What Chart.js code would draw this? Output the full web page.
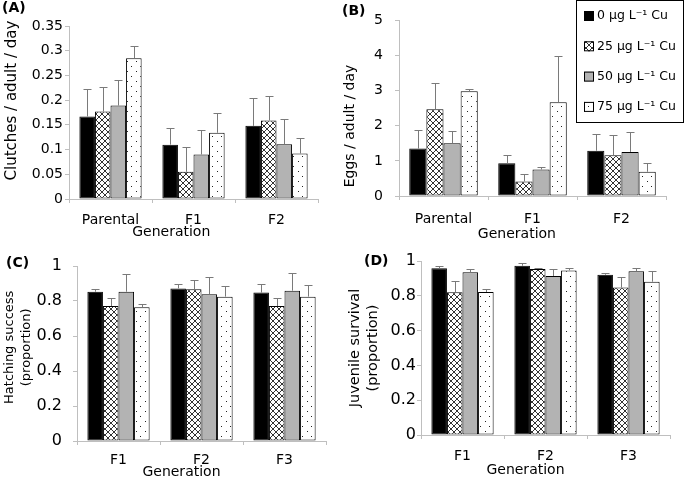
<!DOCTYPE html>
<html>
<head>
<meta charset="utf-8">
<script src="https://cdn.jsdelivr.net/npm/chart.js@4.4.0/dist/chart.umd.min.js"></script>
<style>
body { margin: 0; background: #fff; width: 685px; height: 482px; position: relative; overflow: hidden; font-family: "DejaVu Sans", sans-serif; }
canvas { position: absolute; }
.tag { position: absolute; font-weight: bold; font-size: 14px; line-height: 16px; color: #000; }
</style>
</head>
<body>
<canvas id="chart-a" width="340" height="240" style="left:0;top:0;width:340px;height:240px"></canvas>
<canvas id="chart-b" width="345" height="240" style="left:340px;top:0;width:345px;height:240px"></canvas>
<canvas id="chart-c" width="340" height="242" style="left:0;top:240px;width:340px;height:242px"></canvas>
<canvas id="chart-d" width="345" height="242" style="left:340px;top:240px;width:345px;height:242px"></canvas>
<div class="tag" style="left:2px;top:-1px">(A)</div>
<div class="tag" style="left:342px;top:2px">(B)</div>
<div class="tag" style="left:6px;top:254px">(C)</div>
<div class="tag" style="left:364px;top:252px">(D)</div>
<script>
// treatments (series) and generations (categories)
const concLabels = ["0 μg L⁻¹ Cu", "25 μg L⁻¹ Cu", "50 μg L⁻¹ Cu", "75 μg L⁻¹ Cu"];
const genParental = ["Parental", "F1", "F2"];
const genOffspring = ["F1", "F2", "F3"];

// (A) clutches / adult / day, rows = 0, 25, 50, 75 ug/L
const clutchMeans = [
    [0.167, 0.110, 0.148],
    [0.177, 0.055, 0.159],
    [0.189, 0.090, 0.111],
    [0.285, 0.134, 0.092]
];
const clutchErr = [
    [0.056, 0.034, 0.057],
    [0.050, 0.050, 0.050],
    [0.051, 0.050, 0.051],
    [0.025, 0.040, 0.032]
];

// (B) eggs / adult / day
const eggMeans = [
    [1.35, 0.935, 1.29],
    [2.47, 0.415, 1.16],
    [1.50, 0.755, 1.255],
    [2.985, 2.67, 0.69]
];
const eggErr = [
    [0.52, 0.245, 0.485],
    [0.75, 0.225, 0.59],
    [0.36, 0.065, 0.565],
    [0.055, 1.33, 0.255]
];

// (C) hatching success
const hatchMeans = [
    [0.853, 0.872, 0.848],
    [0.771, 0.867, 0.771],
    [0.853, 0.838, 0.859],
    [0.764, 0.825, 0.825]
];
const hatchErr = [
    [0.014, 0.027, 0.047],
    [0.048, 0.051, 0.048],
    [0.103, 0.097, 0.099],
    [0.019, 0.063, 0.065]
];

// (D) juvenile survival
const survMeans = [
    [0.958, 0.973, 0.921],
    [0.820, 0.954, 0.847],
    [0.935, 0.914, 0.941],
    [0.822, 0.946, 0.881]
];
const survErr = [
    [0.013, 0.017, 0.010],
    [0.063, 0.006, 0.063],
    [0.019, 0.040, 0.019],
    [0.019, 0.014, 0.063]
];

const ticksA = [0, 0.05, 0.1, 0.15, 0.2, 0.25, 0.3, 0.35];
const ticksB = [0, 1, 2, 3, 4, 5];
const ticksCD = [0, 0.2, 0.4, 0.6, 0.8, 1];

Chart.defaults.font.family = "'DejaVu Sans', sans-serif";
Chart.defaults.color = "#000";

function crossPattern() {
    const c = document.createElement("canvas");
    c.width = 6; c.height = 6;
    const g = c.getContext("2d");
    g.fillStyle = "#fff";
    g.fillRect(0, 0, 6, 6);
    g.strokeStyle = "#333";
    g.lineWidth = 1;
    g.beginPath();
    g.moveTo(0, 0); g.lineTo(6, 6);
    g.moveTo(6, 0); g.lineTo(0, 6);
    g.stroke();
    return g.createPattern(c, "repeat");
}

function dotPattern() {
    const c = document.createElement("canvas");
    c.width = 9; c.height = 10;
    const g = c.getContext("2d");
    g.fillStyle = "#fff";
    g.fillRect(0, 0, 9, 10);
    g.fillStyle = "#222";
    g.fillRect(1, 1, 1, 1);
    g.fillRect(5, 6, 1, 1);
    return g.createPattern(c, "repeat");
}

const fills = ["#000000", crossPattern(), "#b3b3b3", dotPattern()];

// upper-only SE bars
const errorBars = {
    id: "errorBars",
    afterDatasetsDraw(chart) {
        const ctx = chart.ctx;
        const y = chart.scales.y;
        ctx.save();
        ctx.strokeStyle = "#7a7a7a";
        ctx.lineWidth = 1;
        chart.data.datasets.forEach((ds, i) => {
            const meta = chart.getDatasetMeta(i);
            meta.data.forEach((bar, j) => {
                const top = Math.round(y.getPixelForValue(ds.data[j] + ds.err[j])) + 0.5;
                const x = Math.round(bar.x) + 0.5;
                ctx.beginPath();
                ctx.moveTo(x, bar.y);
                ctx.lineTo(x, top);
                ctx.moveTo(x - 4, top);
                ctx.lineTo(x + 4, top);
                ctx.stroke();
            });
        });
        ctx.restore();
    }
};

// boxed legend in the top right of panel B
const boxLegend = {
    id: "boxLegend",
    afterDraw(chart) {
        const ctx = chart.ctx;
        ctx.save();
        ctx.fillStyle = "#fff";
        ctx.fillRect(236, 0, 107, 122);
        ctx.strokeStyle = "#000";
        ctx.lineWidth = 1;
        ctx.strokeRect(236.5, 0.5, 107, 122);
        ctx.font = "12.5px 'DejaVu Sans', sans-serif";
        ctx.textBaseline = "middle";
        chart.data.datasets.forEach((ds, i) => {
            const cy = 16 + i * 30.3;
            ctx.fillStyle = ds.backgroundColor;
            ctx.fillRect(244, cy - 5, 10, 10);
            ctx.strokeRect(244.5, cy - 4.5, 9, 9);
            ctx.fillStyle = "#000";
            ctx.fillText(ds.label, 257, cy);
        });
        ctx.restore();
    }
};

function makePanel(id, o) {
    const datasets = o.means.map((row, i) => ({
        label: concLabels[i],
        data: row,
        err: o.err[i],
        backgroundColor: fills[i],
        borderColor: "#000",
        borderWidth: 1,
        borderSkipped: false
    }));
    return new Chart(document.getElementById(id), {
        type: "bar",
        data: { labels: o.labels, datasets: datasets },
        options: {
            responsive: false,
            animation: false,
            devicePixelRatio: 1,
            layout: { padding: { top: o.top, right: o.right, left: 0, bottom: 0 } },
            datasets: { bar: { barPercentage: 1, categoryPercentage: o.catPct } },
            plugins: { legend: { display: false }, tooltip: { enabled: false } },
            scales: {
                x: {
                    grid: { display: true, drawOnChartArea: false, tickLength: 4, color: "#bfbfbf", offset: true },
                    border: { display: true, color: "#bfbfbf" },
                    ticks: { font: { size: 14 }, padding: o.xPad, maxRotation: 0 },
                    title: { display: true, text: o.xTitle, font: { size: 14 }, padding: { top: 0, bottom: o.xTitlePad } },
                    afterFit: s => { s.height = o.xHeight; }
                },
                y: {
                    min: o.ticks[0],
                    max: o.ticks[o.ticks.length - 1],
                    afterBuildTicks: s => { s.ticks = o.ticks.map(v => ({ value: v })); },
                    grid: { display: true, drawOnChartArea: false, tickLength: 4, color: "#bfbfbf" },
                    border: { display: true, color: "#bfbfbf" },
                    ticks: { font: { size: o.tickSize }, padding: o.yPad, callback: v => String(v) },
                    title: { display: true, text: o.yTitle, font: { size: o.yTitleSize, lineHeight: o.yTitleLh }, padding: { top: o.yTitlePad, bottom: 0 } },
                    afterFit: s => { s.width = o.yWidth; }
                }
            }
        },
        plugins: o.legend ? [errorBars, boxLegend] : [errorBars]
    });
}

const sp = n => "\u00a0".repeat(n);

makePanel("chart-a", {
    labels: genParental, means: clutchMeans, err: clutchErr, ticks: ticksA,
    top: 26, right: 22, catPct: 0.75, xHeight: 41, yWidth: 69,
    xPad: 9, xTitle: "Generation" + sp(10), xTitlePad: -1,
    tickSize: 14, yPad: 2,
    yTitle: sp(5) + "Clutches / adult / day", yTitleSize: 15, yTitleLh: 1.2, yTitlePad: 3
});

makePanel("chart-b", {
    labels: genParental, means: eggMeans, err: eggErr, ticks: ticksB, legend: true,
    top: 20, right: 19, catPct: 0.77, xHeight: 44, yWidth: 59,
    xPad: 11, xTitle: "Generation" + sp(7), xTitlePad: -3,
    tickSize: 14, yPad: 12,
    yTitle: "Eggs / adult / day" + sp(8), yTitleSize: 14, yTitleLh: 1.2, yTitlePad: 2
});

makePanel("chart-c", {
    labels: genOffspring, means: hatchMeans, err: hatchErr, ticks: ticksCD,
    top: 26, right: 14, catPct: 0.75, xHeight: 41, yWidth: 77,
    xPad: 7, xTitle: "Generation" + sp(9), xTitlePad: 1,
    tickSize: 16, yPad: 11,
    yTitle: [sp(3) + "Hatching success", sp(3) + "(proportion)"], yTitleSize: 13, yTitleLh: 1.3, yTitlePad: 1.5
});

makePanel("chart-d", {
    labels: genOffspring, means: survMeans, err: survErr, ticks: ticksCD,
    top: 21, right: 15, catPct: 0.75, xHeight: 47, yWidth: 81,
    xPad: 9, xTitle: "Generation" + sp(9), xTitlePad: 3.5,
    tickSize: 16, yPad: 1,
    yTitle: ["Juvenile survival", "(proportion)"], yTitleSize: 14.5, yTitleLh: 1.24, yTitlePad: 6
});
</script>
</body>
</html>
